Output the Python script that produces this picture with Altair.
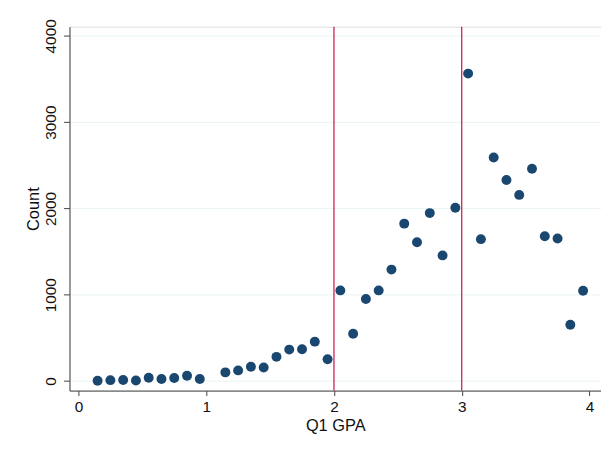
import altair as alt
import pandas as pd

gpa = [0.15, 0.25, 0.35, 0.45, 0.55, 0.65, 0.75, 0.85, 0.95,
       1.15, 1.25, 1.35, 1.45, 1.55, 1.65, 1.75, 1.85, 1.95,
       2.05, 2.15, 2.25, 2.35, 2.45, 2.55, 2.65, 2.75, 2.85, 2.95,
       3.05, 3.15, 3.25, 3.35, 3.45, 3.55, 3.65, 3.75, 3.85, 3.95]
count = [2, 10, 12, 5, 38, 23, 34, 61, 23,
         100, 123, 165, 157, 280, 364, 368, 456, 253,
         1050, 548, 950, 1050, 1291, 1824, 1609, 1946, 1456, 2008,
         3563, 1644, 2590, 2330, 2157, 2460, 1678, 1652, 652, 1046]
cutoffs = [2, 3]

df = pd.DataFrame({"gpa": gpa, "count": count})
lines = pd.DataFrame({"cut": cutoffs})

FONT = "Liberation Sans"

xscale = alt.Scale(domain=[-0.07, 4.09], nice=False, zero=False)
yscale = alt.Scale(domain=[-111, 4107], nice=False, zero=False)

xaxis = alt.Axis(values=[0, 1, 2, 3, 4], format="d", title="Q1 GPA", grid=False,
                 domainColor="#444444", tickColor="#444444", tickSize=5,
                 labelFontSize=15.5, labelFont=FONT, labelColor="#111111",
                 labelBaseline="alphabetic", labelPadding=16,
                 titleFontSize=16.5, titleFont=FONT, titleFontWeight="normal",
                 titleColor="#111111", titleBaseline="alphabetic", titleY=40)
yaxis = alt.Axis(values=[0, 1000, 2000, 3000, 4000], format="d", title="Count", grid=True,
                 gridColor="#eaf2f3", gridWidth=1,
                 domainColor="#444444", tickColor="#444444", tickSize=6,
                 labelFontSize=15.5, labelFont=FONT, labelColor="#111111",
                 labelAngle=-90, labelAlign="center", labelBaseline="alphabetic",
                 labelPadding=8,
                 titleFontSize=16.5, titleFont=FONT, titleFontWeight="normal",
                 titleColor="#111111", titleAngle=-90, titleBaseline="alphabetic",
                 titleX=-31)

points = alt.Chart(df).mark_circle(size=100, opacity=1, color="#1a476f").encode(
    x=alt.X("gpa:Q", scale=xscale, axis=xaxis),
    y=alt.Y("count:Q", scale=yscale, axis=yaxis),
)

rules = alt.Chart(lines).mark_rule(color="#c8103e", strokeWidth=1.2).encode(
    x=alt.X("cut:Q", scale=xscale),
)

chart = alt.layer(rules, points).properties(
    width=536, height=367,
    autosize=alt.AutoSizeParams(type="none"),
    padding={"left": 62, "top": 17, "right": 0, "bottom": 45},
).configure_view(stroke=None).configure(background="white")

chart.save("out.html", embed_options={"renderer": "svg", "actions": False})
